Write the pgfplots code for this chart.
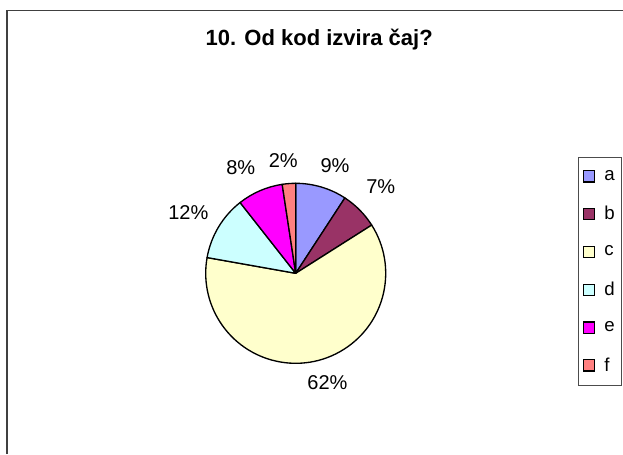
\documentclass[border=0pt]{standalone}
\usepackage{pgfplots}
\usepackage{pgfplotstable}
\pgfplotsset{compat=1.18}
\usepackage{fontspec}
\setmainfont{Liberation Sans}

\definecolor{cA}{HTML}{9999FF}
\definecolor{cB}{HTML}{993366}
\definecolor{cC}{HTML}{FFFFCC}
\definecolor{cD}{HTML}{CCFFFF}
\definecolor{cE}{HTML}{FF00FF}
\definecolor{cF}{HTML}{FF8080}

\pgfplotstableread{
label value col
a 9.2 cA
b 6.8 cB
c 61.8 cC
d 11.6 cD
e 8.2 cE
f 2.4 cF
}\piedata

\begin{document}
\begin{tikzpicture}
\useasboundingbox (0,0) rectangle (467.25pt,340.5pt);
\xdef\cumangle{90}
\pgfplotsforeachungrouped \i in {0,...,5}{%
  \pgfplotstablegetelem{\i}{value}\of\piedata
  \pgfmathsetmacro\endang{\cumangle-3.6*\pgfplotsretval}%
  \expandafter\xdef\csname pieS\i\endcsname{\cumangle}%
  \expandafter\xdef\csname pieE\i\endcsname{\endang}%
  \pgfplotstablegetelem{\i}{col}\of\piedata
  \expandafter\xdef\csname pieC\i\endcsname{\pgfplotsretval}%
  \xdef\cumangle{\endang}%
}
\begin{axis}[
  at={(0,0)}, anchor=south west,
  scale only axis, width=467.25pt, height=340.5pt,
  xmin=0, xmax=623, ymin=0, ymax=454, y dir=reverse,
  hide axis, clip=false,
  legend style={at={(axis cs:621.8,157.3)}, anchor=north east,
    draw=black!70, line width=0.6pt, inner xsep=3pt, inner ysep=7.5pt,
    row sep=14pt, font=\fontsize{14}{16}\selectfont,
    /tikz/every odd column/.append style={column sep=5pt}},
  legend cell align=left,
  legend image code/.code={\draw[#1, draw=black, line width=0.9pt] (0pt,-4.2pt) rectangle (8.4pt,4.2pt);},
]
\pgfplotsinvokeforeach{0,...,5}{
  \filldraw[fill=\csname pieC#1\endcsname, draw=black, line width=1pt, line join=round]
    (axis cs:295.7,273.3) -- ++(\csname pieS#1\endcsname:67.5pt)
    arc[start angle=\csname pieS#1\endcsname, end angle=\csname pieE#1\endcsname, radius=67.5pt] -- cycle;
}
\addlegendimage{fill=cA}\addlegendentry{a}
\addlegendimage{fill=cB}\addlegendentry{b}
\addlegendimage{fill=cC}\addlegendentry{c}
\addlegendimage{fill=cD}\addlegendentry{d}
\addlegendimage{fill=cE}\addlegendentry{e}
\addlegendimage{fill=cF}\addlegendentry{f}

\draw[black!75, line width=1pt] (axis cs:7,454) -- (axis cs:7,10.5) -- (axis cs:623,10.5);
\node[font=\bfseries\fontsize{16.5}{18}\selectfont] at (axis cs:319.2,40) {10. Od kod izvira čaj?};
\begin{scope}[every node/.style={font=\fontsize{15}{17}\selectfont, inner sep=0pt}]
\node at (axis cs:335,166) {9\%};
\node at (axis cs:380.8,187) {7\%};
\node at (axis cs:327.5,383) {62\%};
\node at (axis cs:188.3,213) {12\%};
\node at (axis cs:240.8,168) {8\%};
\node at (axis cs:283.3,160.5) {2\%};
\end{scope}
\end{axis}
\end{tikzpicture}
\end{document}
